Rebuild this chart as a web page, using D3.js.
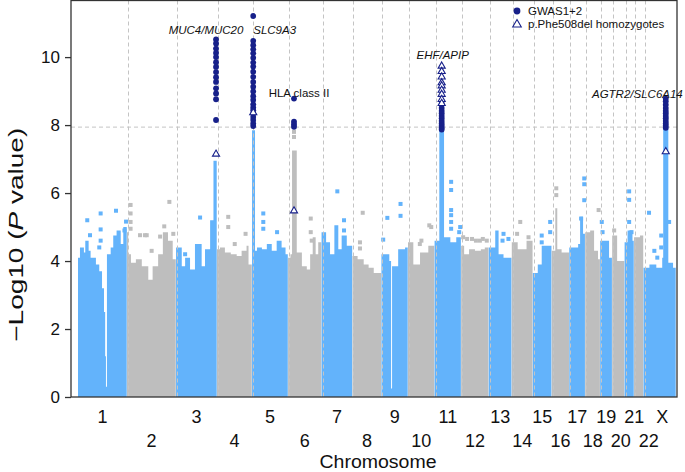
<!DOCTYPE html>
<html><head><meta charset="utf-8">
<script src="https://cdn.jsdelivr.net/npm/d3@7"></script>
<style>
body{margin:0;background:#fff;}
svg text{font-family:"Liberation Sans",Arial,Helvetica,sans-serif;fill:#111;}
</style></head><body>
<svg id="chart" width="685" height="472"></svg>
<script>
// ---------------- data ----------------
const chromosomes = ["1","2","3","4","5","6","7","8","9","10","11","12","13","14","15","16","17","18","19","20","21","22","X"];
// plotted chromosome lengths (Mb)
const chromLengths = [249,249,208,178,183,170,157,147,135,135,135,140,117,107,96,89,81,76,61,63,48,48,165];
const yTicks = [0,2,4,6,8,10];
const threshold = 7.94;

// top of the dense point cloud per chromosome: [position (Mb), -log10 P]
const chromTops = [
  [[0,4.1],[10,4.4],[30,4.25],[37,4.6],[54,4.3],[64,4.1],[91,3.9],[108,3.7],[122,3.2],[132,2.5],[138,1.2],[142,0.3],[147,4.2],[166,4.4],[179,4.75],[196,4.9],[217,4.5],[230,5.0]],
  [[0,4.85],[6,4.2],[20,3.95],[45,4.05],[75,3.85],[108,3.45],[130,3.85],[158,4.2],[182,4.85],[208,4.6],[232,4.05]],
  [[0,4.4],[29,3.85],[46,4.1],[71,3.75],[96,4.5],[130,3.85],[147,4.35],[173,5.2],[190,6.95]],
  [[0,4.35],[15,4.4],[40,4.25],[70,4.2],[100,4.15],[125,4.3],[150,4.45],[160,3.9]],
  [[0,7.85],[15,4.3],[25,4.4],[50,4.35],[75,4.5],[100,4.3],[125,4.6],[150,4.4],[170,4.2]],
  [[0,4.1],[12,4.2],[20,7.25],[44,4.25],[70,3.85],[95,3.75],[112,4.2],[125,4.7],[140,4.2],[153,4.55]],
  [[0,4.85],[23,4.55],[43,4.2],[65,5.05],[85,4.35],[102,4.75],[128,4.45]],
  [[0,4.15],[26,4.05],[57,3.9],[82,3.8],[108,3.65]],
  [[0,4.2],[40,4.0],[49,0.25],[54,3.85],[75,3.85],[85,4.35],[120,4.4]],
  [[0,4.55],[27,3.9],[61,4.25],[103,4.45]],
  [[0,4.6],[24,7.85],[48,4.7],[80,4.55],[110,4.7]],
  [[0,4.45],[15,4.2],[40,4.35],[70,4.3],[100,4.35],[120,4.4]],
  [[0,4.4],[33,4.9],[50,4.2],[75,4.1]],
  [[0,4.55],[30,4.35],[75,4.6]],
  [[0,3.65],[25,3.9],[45,4.45]],
  [[0,4.3],[18,5.55],[28,4.35],[50,4.25]],
  [[0,4.4],[45,4.5],[55,5.3],[70,4.8]],
  [[0,4.85],[25,4.9],[45,4.3],[65,4.05]],
  [[0,4.6],[45,4.1]],
  [[0,4.75],[25,4.0]],
  [[0,4.55],[15,4.9],[40,4.6]],
  [[0,4.7],[30,4.75]],
  [[0,3.8],[30,3.9],[65,3.8],[95,4.1],[100,7.9],[126,3.95],[150,3.8]]
];

// isolated SNPs above the cloud: [chromosome index, position (Mb), -log10 P]
const loosePoints = [
  [0,47,5.2],[0,115,5.4],[0,193,5.48],[0,61,4.76],[0,115,4.93],[0,115,4.6],[0,108,4.4],[0,244,5.16],[0,236,4.9],
  [1,18,5.65],[1,18,5.4],[1,18,5.15],[1,18,4.95],[1,66,4.76],[1,91,4.76],[1,100,4.76],[1,125,4.3],[1,168,4.72],[1,189,5.02],[1,215,5.74],[1,235,4.8],
  [2,122,5.28],[2,46,4.2],
  [3,57,5.3],[3,57,5.0],[3,145,4.8],[3,90,4.5],
  [4,57,5.4],[4,57,5.15],[4,57,4.95],[4,127,4.85],
  [5,115,5.25],[5,115,4.85],[5,120,4.6],[5,30,7.8],[5,30,7.65],
  [6,80,6.05],[6,114,5.2],[6,114,4.9],
  [7,52,5.42],[7,38,4.55],[7,38,4.37],
  [8,30,5.27],[8,97,5.68],[8,97,5.33],[8,9,4.63],
  [9,68,4.6],[9,108,5.05],[9,118,5.0],[9,60,4.5],
  [10,84,6.33],[10,84,6.09],[10,84,5.5],[10,84,5.35],[10,84,5.15],[10,84,4.95],[10,130,5.0],[10,125,4.85],
  [11,10,4.7],[11,30,4.65],[11,55,4.65],[11,75,4.6],[11,95,4.6],[11,110,4.65],[11,130,4.6],
  [12,75,4.8],[12,100,4.65],[12,70,4.6],
  [13,43,5.15],[13,27,4.8],[13,85,4.7],
  [14,88,5.15],[14,88,4.85],[14,45,4.75],[14,45,4.55],
  [15,23,6.14],[15,23,5.94],
  [16,76,6.43],[16,76,6.26],[16,76,5.79],[16,60,5.25],
  [17,68,5.5],
  [18,8,5.15],[18,12,4.85],
  [19,10,4.9],
  [20,23,6.05],[20,23,5.8],[20,23,5.15],[20,35,4.85],
  [22,28,5.42],[22,90,4.75],[22,90,4.4],[22,130,5.15],[22,55,4.3],[22,70,4.1]
];

// GWAS1+2 genome-wide significant SNPs: [chromosome index, position (Mb), -log10 P]
const gwasHits = [
  [2,203,10.52],[2,203,10.40],[2,203,10.25],[2,203,10.12],[2,203,10.00],[2,203,9.85],[2,203,9.71],[2,203,9.56],[2,203,9.41],[2,203,9.27],[2,203,9.08],[2,203,8.93],[2,203,8.76],[2,203,8.15],
  [4,6,11.21],[4,6,10.48],[4,6,10.35],[4,6,10.23],[4,6,10.11],[4,6,9.98],[4,6,9.84],[4,6,9.72],[4,6,9.57],[4,6,9.42],[4,6,9.27],[4,6,9.13],[4,6,8.99],[4,6,8.85],[4,6,8.74],[4,6,8.61],[4,6,8.52],[4,6,8.44],[4,6,8.34],[4,6,8.24],[4,6,8.15],[4,6,8.05],[4,6,7.97],
  [5,30,8.78],[5,30,8.1],[5,30,8.02],[5,30,7.95],
  [10,36,8.7],[10,36,8.6],[10,36,8.5],[10,36,8.42],[10,36,8.35],[10,36,8.27],[10,36,8.2],[10,36,8.12],[10,36,8.05],[10,36,7.98],[10,36,7.92],[10,36,7.87],
  [22,113,8.78],[22,113,8.7],[22,113,8.6],[22,113,8.5],[22,113,8.42],[22,113,8.35],[22,113,8.27],[22,113,8.2],[22,113,8.12],[22,113,8.05],[22,113,7.98],[22,113,7.92]
];
// p.Phe508del homozygotes analysis
const homozygoteHits = [
  [2,203,7.17],[4,6,8.39],[5,30,5.5],
  [10,36,9.76],[10,36,9.6],[10,36,9.44],[10,36,9.27],[10,36,9.18],[10,36,9.05],[10,36,8.93],[10,36,8.78],[10,36,8.66],
  [22,113,7.24]
];
const geneNames = ["MUC4/MUC20","SLC9A3","HLA class II","EHF/APIP","AGTR2/SLC6A14"];
const geneChrom = [2,4,5,10,22];
const genePos = [203,6,30,36,113];
const geneLabelValue = [10.8,10.8,8.95,10.05,8.9];
const legendLabels = ["GWAS1+2","p.Phe508del homozygotes"];

// ---------------- layout ----------------
const plotL = 71, plotR = 677, plotT = 0.5, plotB = 397;
const blue = "#63b3fb", grey = "#bebebe", navy = "#17208a";

const svg = d3.select("#chart");
const starts = [];
let acc = 0;
chromLengths.forEach(l => { starts.push(acc); acc += l; });
const total = acc;

const x = d3.scaleLinear().domain([0, total]).range([78, 676]);
const y = d3.scaleLinear().domain([0, 11.68]).range([plotB, 0]);
const gx = (c, p) => x(starts[c] + p);
const colorOf = c => (c % 2 === 0 ? blue : grey);

const plot = svg.append("g");

// dense clouds
const area = d3.area()
  .x(d => d[0]).y0(y(0)).y1(d => d[1])
  .curve(d3.curveStepAfter);
chromTops.forEach((tops, c) => {
  const pts = tops.map(t => [gx(c, t[0]), y(t[1])]);
  const last = tops[tops.length - 1];
  pts.push([gx(c, chromLengths[c] - 1.5), y(last[1])]);
  plot.append("path").attr("d", area(pts)).attr("fill", colorOf(c));
});

// loose points (squares)
const sq = 4;
plot.selectAll("rect.loose").data(loosePoints).join("rect")
  .attr("class","loose")
  .attr("x", d => gx(d[0], d[1]) - sq/2)
  .attr("y", d => y(d[2]) - sq/2)
  .attr("width", sq).attr("height", sq)
  .attr("fill", d => colorOf(d[0]));

// grid: chromosome boundaries + threshold
const grid = svg.append("g").attr("stroke", "#c4c4c4").attr("stroke-width", 1).attr("stroke-dasharray", "4,3").attr("fill","none");
starts.slice(1).forEach(s => {
  const xx = Math.round(x(s) + 1) + 0.5;
  grid.append("line").attr("x1", xx).attr("x2", xx).attr("y1", plotT).attr("y2", plotB);
});
grid.append("line").attr("x1", plotL).attr("x2", plotR).attr("y1", y(threshold)).attr("y2", y(threshold));

// hits
svg.append("g").selectAll("circle").data(gwasHits).join("circle")
  .attr("cx", d => gx(d[0], d[1])).attr("cy", d => y(d[2])).attr("r", 2.9)
  .attr("fill", navy);
const tri = d3.symbol().type(d3.symbolTriangle).size(22);
svg.append("g").selectAll("path").data(homozygoteHits).join("path")
  .attr("d", tri)
  .attr("transform", d => `translate(${gx(d[0], d[1])},${y(d[2]) + 0.8})`)
  .attr("fill", "#fff").attr("stroke", navy).attr("stroke-width", 1.1);

// frame
svg.append("rect").attr("x", plotL).attr("y", plotT).attr("width", plotR - plotL).attr("height", plotB - plotT)
  .attr("fill", "none").attr("stroke", "#333").attr("stroke-width", 1.3);

// y axis
const yAxis = d3.axisLeft(y).tickValues(yTicks).tickSize(6).tickPadding(5);
const ya = svg.append("g").attr("transform", `translate(${plotL},0)`).call(yAxis);
ya.select(".domain").remove();
ya.selectAll("line").attr("stroke", "#333").attr("stroke-width", 1.3);
ya.selectAll("text").attr("font-size", 17).attr("fill", "#111")
  .attr("font-family", '"Liberation Sans",Arial,sans-serif');

// x labels (two staggered rows, spread so neighbours in a row keep apart)
const labelX = chromosomes.map((d, i) => x(starts[i] + chromLengths[i] / 2));
const lastInRow = [-1e9, -1e9];
const placedX = labelX.map((lx, i) => {
  const r = i % 2;
  const v = Math.max(lx, lastInRow[r] + 28);
  lastInRow[r] = v;
  return v;
});
svg.append("g").selectAll("text").data(chromosomes).join("text")
  .attr("x", (d, i) => placedX[i])
  .attr("y", (d, i) => (i % 2 === 0 ? 423 : 447))
  .attr("text-anchor", "middle").attr("font-size", 18)
  .text(d => d);

svg.append("text").attr("x", (plotL + plotR) / 2 + 4).attr("y", 468)
  .attr("text-anchor", "middle").attr("font-size", 18)
  .attr("textLength", 117).attr("lengthAdjust", "spacingAndGlyphs")
  .text("Chromosome");

const yt = svg.append("text").attr("transform", `translate(23,${(plotT + plotB) / 2 + 36}) rotate(-90)`)
  .attr("text-anchor", "middle").attr("font-size", 20)
  .attr("textLength", 214).attr("lengthAdjust", "spacingAndGlyphs");
yt.append("tspan").text("\u2212Log10 (");
yt.append("tspan").attr("font-style", "italic").text("P");
yt.append("tspan").text(" value)");

// gene labels
const labelLayout = [
  {dx: -10, anchor: "middle", italic: true},
  {dx: 0, anchor: "start", italic: true},
  {dx: 5, anchor: "middle", italic: false},
  {dx: 1, anchor: "middle", italic: true},
  {dx: 17, anchor: "end", italic: true}
];
geneNames.forEach((g, i) => {
  const L = labelLayout[i];
  svg.append("text")
    .attr("x", gx(geneChrom[i], genePos[i]) + L.dx)
    .attr("y", y(geneLabelValue[i]) + 4)
    .attr("text-anchor", L.anchor).attr("font-size", 11.5)
    .attr("font-style", L.italic ? "italic" : "normal")
    .text(g);
});

// legend
const lg = svg.append("g").attr("transform", "translate(517,0)");
lg.append("circle").attr("cx", 0).attr("cy", 11).attr("r", 3.4).attr("fill", navy);
lg.append("path").attr("d", d3.symbol().type(d3.symbolTriangle).size(32))
  .attr("transform", "translate(0,24.5)").attr("fill", "#fff").attr("stroke", navy).attr("stroke-width", 1.1);
lg.selectAll("text").data(legendLabels).join("text")
  .attr("x", 11).attr("y", (d, i) => 15 + i * 13)
  .attr("font-size", 11.5).text(d => d);
</script>
</body></html>
